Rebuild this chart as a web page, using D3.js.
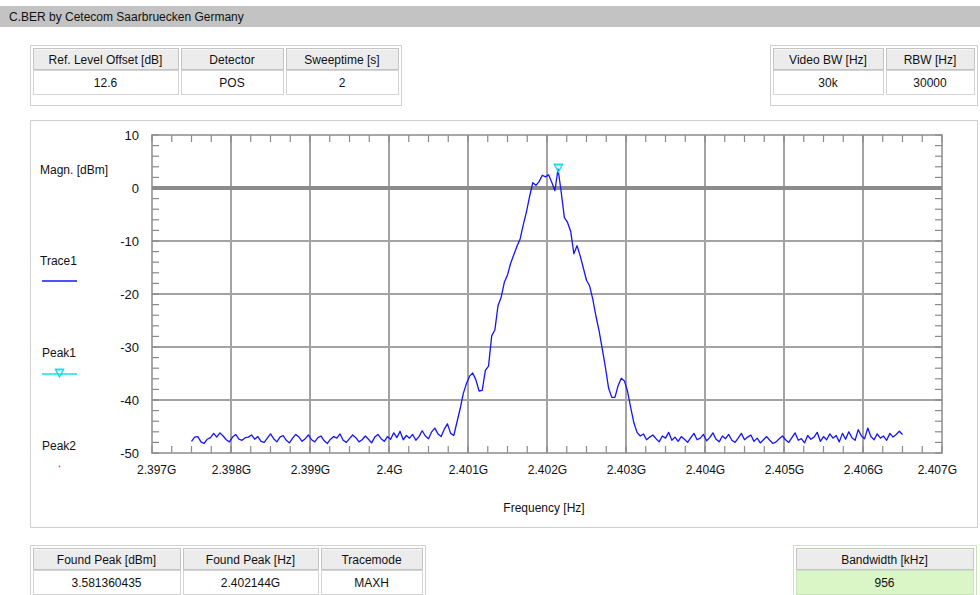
<!DOCTYPE html>
<html>
<head>
<meta charset="utf-8">
<script src="https://cdn.jsdelivr.net/npm/d3@7"></script>
<style>
  html, body { margin: 0; padding: 0; background: #ffffff; }
  svg { display: block; font-family: "Liberation Sans", Arial, sans-serif; }
</style>
</head>
<body>
<svg id="chart" width="980" height="595"></svg>
<script>
// ---- Report texts ----
const titleText = "C.BER by Cetecom Saarbruecken Germany";
const settingsHeaders = ["Ref. Level Offset [dB]", "Detector", "Sweeptime [s]"];
const settingsValues = ["12.6", "POS", "2"];
const filterHeaders = ["Video BW [Hz]", "RBW [Hz]"];
const filterValues = ["30k", "30000"];
const peakHeaders = ["Found Peak [dBm]", "Found Peak [Hz]", "Tracemode"];
const peakValues = ["3.581360435", "2.402144G", "MAXH"];
const occupiedHeaders = ["Bandwidth [kHz]"];
const occupiedValues = ["956"];

// ---- Axes ----
const yAxisTitle = "Magn. [dBm]";
const xAxisTitle = "Frequency [Hz]";
const yTickValues = [10, 0, -10, -20, -30, -40, -50];
const xTickValuesGHz = [2.397, 2.398, 2.399, 2.4, 2.401, 2.402, 2.403, 2.404, 2.405, 2.406, 2.407];
const xTickLabels = ["2.397G", "2.398G", "2.399G", "2.4G", "2.401G", "2.402G", "2.403G", "2.404G", "2.405G", "2.406G", "2.407G"];
const legendLabels = ["Trace1", "Peak1", "Peak2"];

// ---- Sweep (MAXH trace, dBm), evenly spaced sweep points ----
const sweepStartGHz = 2.3975;
const sweepStepGHz = 0.00004;
const traceLevels = [
  -47.8, -47.0, -46.9, -47.9, -48.2, -47.4, -47.1, -46.3, -47.0, -46.2, -46.8, -47.5, -47.9, -47.0, -46.5, -47.4, -47.6, -47.1, -47.0, -46.6,
  -47.4, -46.9, -47.8, -48.0, -47.2, -46.4, -47.3, -47.9, -47.0, -46.7, -47.6, -48.1, -47.2, -46.5, -47.0, -47.8, -47.3, -46.6, -47.5, -47.9,
  -47.1, -46.8, -47.7, -48.2, -47.4, -46.9, -47.2, -46.4, -47.6, -48.0, -47.3, -46.6, -47.1, -47.9, -47.5, -46.8, -47.4, -48.1, -47.0, -46.5,
  -47.3, -47.8, -46.9, -47.4, -46.2, -47.1, -45.9, -47.5, -46.7, -47.2, -46.5, -47.6, -46.9, -45.8, -46.8, -47.3, -46.0, -45.3, -46.4, -46.9,
  -45.5, -44.5, -46.3, -46.7, -44.2, -41.7, -38.8, -36.9, -35.5, -34.9, -36.2, -38.3, -38.2, -34.4, -33.6, -27.9, -26.8, -22.2, -20.6, -17.8,
  -16.4, -14.2, -12.6, -11.0, -9.6, -6.9, -4.5, -1.6, 1.0, 0.5, 1.2, 2.4, 2.1, 2.5, 1.1, -0.5, 3.58, -0.8, -5.6, -6.5,
  -8.2, -12.4, -10.9, -12.8, -15.1, -17.4, -18.5, -21.0, -24.2, -27.0, -30.4, -33.9, -37.8, -39.5, -39.5, -37.3, -35.9, -36.4, -38.4, -41.5,
  -44.3, -46.1, -46.8,
  -46.4, -47.5, -47.0, -46.6, -47.3, -47.9, -46.8, -47.2, -46.1, -47.6, -47.0, -47.8, -46.9, -47.4, -48.0, -47.1, -46.3, -47.5, -47.2, -46.5,
  -47.7, -47.1, -46.2, -47.4, -47.9, -46.8, -47.3, -46.5, -47.6, -48.0, -47.2, -46.3, -47.5, -47.0, -46.6, -47.8, -47.2, -48.1, -47.5, -46.9,
  -47.6, -48.2, -47.9, -47.3, -46.8, -47.5, -48.0, -47.1, -46.2, -47.6, -47.3, -48.1, -46.7, -47.4, -47.0, -46.1, -47.8, -46.9, -47.5, -46.4,
  -47.2, -46.7, -47.9, -46.3, -47.4, -46.0, -47.1, -47.6, -45.6, -46.8, -47.3, -45.3, -46.9, -47.5, -46.4, -47.2, -46.8, -47.6, -46.3, -47.0, -46.5, -45.9, -46.5
];

// ---- Peak marker ----
const peakFreqGHz = 2.402144;
const peakLevel = 3.581360435;

const svg = d3.select("#chart");
const FONT = 12;

// Title bar
svg.append("rect").attr("x", 0).attr("y", 6).attr("width", 980).attr("height", 21).attr("fill", "#c3c3c3");
svg.append("text").attr("x", 9).attr("y", 21).attr("font-size", 12).attr("fill", "#111").text(titleText);

// Parameter tables
function drawTable(x0, y0, widths, headers, values, theme) {
  const gap = 3;
  const total = d3.sum(widths) + gap * (widths.length - 1) + 6;
  const g = svg.append("g");
  g.append("rect").attr("x", x0 + 0.5).attr("y", y0 + 0.5).attr("width", total).attr("height", 60)
    .attr("fill", "#ffffff").attr("stroke", theme.frame).attr("stroke-width", 1);
  let cx = x0 + 3;
  widths.forEach((w, i) => {
    g.append("rect").attr("x", cx + 0.5).attr("y", y0 + 3.5).attr("width", w).attr("height", 21)
      .attr("fill", "#ececec").attr("stroke", "#c4c4c4");
    g.append("line").attr("x1", cx + 1).attr("x2", cx + w).attr("y1", y0 + 4.5).attr("y2", y0 + 4.5)
      .attr("stroke", "#f8f8f8");
    g.append("rect").attr("x", cx + 0.5).attr("y", y0 + 25.5).attr("width", w).attr("height", 24)
      .attr("fill", theme.value).attr("stroke", theme.valueStroke);
    g.append("text").attr("x", cx + w / 2).attr("y", y0 + 19).attr("text-anchor", "middle")
      .attr("font-size", FONT).attr("fill", "#111").text(headers[i]);
    g.append("text").attr("x", cx + w / 2).attr("y", y0 + 42).attr("text-anchor", "middle")
      .attr("font-size", FONT).attr("fill", "#111").text(values[i]);
    cx += w + gap;
  });
}
const plainTheme = { frame: "#d0d0d0", value: "#ffffff", valueStroke: "#d4d4d4" };
const greenTheme = { frame: "#c9e4b8", value: "#daf6c6", valueStroke: "#c9e4b8" };
drawTable(30, 45, [145, 102, 112], settingsHeaders, settingsValues, plainTheme);
drawTable(770, 45, [110, 88], filterHeaders, filterValues, plainTheme);
drawTable(30, 545, [147, 135, 101], peakHeaders, peakValues, plainTheme);
drawTable(793, 545, [177], occupiedHeaders, occupiedValues, greenTheme);

// Plot panel
svg.append("rect").attr("x", 30.5).attr("y", 120.5).attr("width", 947).attr("height", 407)
  .attr("fill", "#ffffff").attr("stroke", "#cfcfcf");

const x = d3.scaleLinear().domain([2.397, 2.407]).range([152, 942]);
const y = d3.scaleLinear().domain([-50, 10]).range([453, 135]);
const [px0, px1] = x.range();
const [py1, py0] = y.range();

const plot = svg.append("g");

// Grid lines
plot.selectAll(".vgrid").data(xTickValuesGHz.slice(1, -1)).join("line")
  .attr("x1", d => x(d)).attr("x2", d => x(d)).attr("y1", py0).attr("y2", py1)
  .attr("stroke", "#a3a3a3").attr("stroke-width", 2);
plot.selectAll(".hgrid").data(yTickValues.filter(v => v !== 0 && v !== 10 && v !== -50)).join("line")
  .attr("x1", px0).attr("x2", px1).attr("y1", d => y(d)).attr("y2", d => y(d))
  .attr("stroke", "#a3a3a3").attr("stroke-width", 2);
plot.append("line").attr("x1", px0).attr("x2", px1).attr("y1", y(0)).attr("y2", y(0))
  .attr("stroke", "#8c8c8c").attr("stroke-width", 4);

// Minor ticks on all four sides
const minorX = d3.range(0, 41).map(k => 2.397 + k * 0.00025);
const minorY = d3.range(0, 31).map(k => -50 + k * 2);
plot.selectAll(".mxb").data(minorX).join("line")
  .attr("x1", d => x(d)).attr("x2", d => x(d)).attr("y1", py1).attr("y2", py1 - 7)
  .attr("stroke", "#8a8a8a").attr("stroke-width", 1.2);
plot.selectAll(".mxt").data(minorX).join("line")
  .attr("x1", d => x(d)).attr("x2", d => x(d)).attr("y1", py0).attr("y2", py0 + 7)
  .attr("stroke", "#8a8a8a").attr("stroke-width", 1.2);
plot.selectAll(".myl").data(minorY).join("line")
  .attr("x1", px0).attr("x2", px0 + 7).attr("y1", d => y(d)).attr("y2", d => y(d))
  .attr("stroke", "#8a8a8a").attr("stroke-width", 1.2);
plot.selectAll(".myr").data(minorY).join("line")
  .attr("x1", px1).attr("x2", px1 - 7).attr("y1", d => y(d)).attr("y2", d => y(d))
  .attr("stroke", "#8a8a8a").attr("stroke-width", 1.2);

// Plot frame
plot.append("rect").attr("x", px0).attr("y", py0).attr("width", px1 - px0).attr("height", py1 - py0)
  .attr("fill", "none").attr("stroke", "#8c8c8c").attr("stroke-width", 1.5);

// Axis labels via d3 axes
const xAxis = d3.axisBottom(x).tickValues(xTickValuesGHz)
  .tickFormat((d, i) => xTickLabels[i]).tickSize(0).tickPadding(0);
const xg = svg.append("g").attr("transform", `translate(0,${py1 + 12})`).call(xAxis);
xg.select(".domain").remove();
xg.selectAll("text").attr("font-size", FONT).attr("fill", "#111")
  .attr("font-family", "Liberation Sans, Arial, sans-serif")
  .each(function () {
    const t = d3.select(this);
    const bb = this.getBBox();
    const tx = this.parentNode.transform.baseVal.consolidate().matrix.e;
    let shift = 0;
    if (tx + bb.x < 137) shift = 137 - (tx + bb.x);
    if (tx + bb.x + bb.width > 957) shift = 957 - (tx + bb.x + bb.width);
    t.attr("x", shift);
  });

const yAxis = d3.axisLeft(y).tickValues(yTickValues).tickFormat(d => String(d)).tickSize(0).tickPadding(0);
const yg = svg.append("g").attr("transform", `translate(139,0)`).call(yAxis);
yg.select(".domain").remove();
yg.selectAll("text").attr("font-size", FONT + 1).attr("fill", "#111")
  .attr("font-family", "Liberation Sans, Arial, sans-serif");

svg.append("text").attr("x", 544).attr("y", 512).attr("text-anchor", "middle")
  .attr("font-size", FONT).attr("fill", "#111").text(xAxisTitle);

// Trace
const line = d3.line()
  .x((d, i) => x(sweepStartGHz + i * sweepStepGHz))
  .y(d => y(d));
plot.append("path").datum(traceLevels).attr("d", line)
  .attr("fill", "none").attr("stroke", "#1414ff").attr("stroke-width", 1.3)
  .attr("stroke-linejoin", "round");

// Peak marker symbol: bar with a downward triangle beneath it
function peakSymbol(g, cx, cy) {
  g.append("line").attr("x1", cx - 4.5).attr("x2", cx + 4.5).attr("y1", cy - 4.5).attr("y2", cy - 4.5)
    .attr("stroke", "#10e0e8").attr("stroke-width", 1.6);
  g.append("path").attr("d", `M${cx - 4},${cy - 4.5}L${cx + 4},${cy - 4.5}L${cx},${cy + 3}Z`)
    .attr("fill", "none").attr("stroke", "#10e0e8").attr("stroke-width", 1.4);
}
peakSymbol(plot, x(peakFreqGHz), y(peakLevel));

// Legend
const leg = svg.append("g");
leg.append("text").attr("x", 40).attr("y", 174).attr("font-size", FONT).attr("fill", "#111").text(yAxisTitle);
leg.append("text").attr("x", 40).attr("y", 265).attr("font-size", FONT).attr("fill", "#111").text(legendLabels[0]);
leg.append("line").attr("x1", 42).attr("x2", 77).attr("y1", 281).attr("y2", 281)
  .attr("stroke", "#1414ff").attr("stroke-width", 1.5);
leg.append("text").attr("x", 42).attr("y", 357).attr("font-size", FONT).attr("fill", "#111").text(legendLabels[1]);
leg.append("line").attr("x1", 42).attr("x2", 77).attr("y1", 374).attr("y2", 374)
  .attr("stroke", "#10e0e8").attr("stroke-width", 1.6);
peakSymbol(leg, 59.5, 374);
leg.append("text").attr("x", 42).attr("y", 450).attr("font-size", FONT).attr("fill", "#111").text(legendLabels[2]);
leg.append("circle").attr("cx", 59.5).attr("cy", 466.5).attr("r", 0.9).attr("fill", "#ff33cc");
</script>
</body>
</html>
